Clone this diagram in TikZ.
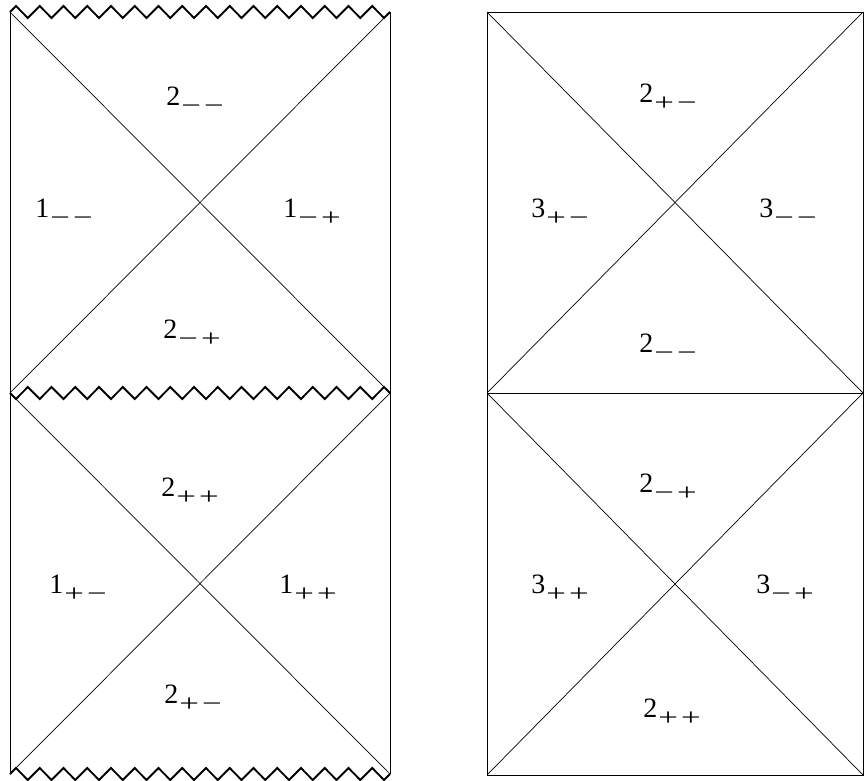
\documentclass[tikz,border=0pt]{standalone}
\usepackage{fontspec}
\setmainfont{Liberation Serif}
\newcommand{\sgn}[1]{\scalebox{1.45}[1]{#1}}
\newcommand{\lbl}[3]{#1\kern1pt\raisebox{-0.3em}{\fontsize{24}{24}\selectfont\sgn{#2}\kern3pt\sgn{#3}}}
\tikzset{
  edge/.style={line width=0.7pt},
  zig/.style={line width=1.9pt, line join=miter},
  lab/.style={font=\fontsize{28}{28}\selectfont, inner sep=0pt}
}
\begin{document}
\begin{tikzpicture}[x=1pt,y=-1pt]
\useasboundingbox (0,0) rectangle (864,781);
% left diagram corners
\coordinate (aTL) at (10,12);
\coordinate (aTR) at (390,12);
\coordinate (aML) at (10,393);
\coordinate (aMR) at (390,393);
\coordinate (aBL) at (10,774);
\coordinate (aBR) at (390,774);
% right diagram corners
\coordinate (bTL) at (487,12);
\coordinate (bTR) at (863,12);
\coordinate (bML) at (487,393);
\coordinate (bMR) at (863,393);
\coordinate (bBL) at (487,775);
\coordinate (bBR) at (863,775);
% left diagram
\draw[edge] (aTL) -- (aBL);
\draw[edge] (aTR) -- (aBR);
\draw[edge] (aTL) -- (aMR);
\draw[edge] (aTR) -- (aML);
\draw[edge] (aML) -- (aBR);
\draw[edge] (aMR) -- (aBL);
\draw[zig] (aTL) \foreach \i in {1,...,16} { -- ++(5.9375,-6) -- ++(11.875,12) -- ++(5.9375,-6) };
\draw[zig] (aML) \foreach \i in {1,...,16} { -- ++(5.9375,6) -- ++(11.875,-12) -- ++(5.9375,6) };
\draw[zig] (aBL) \foreach \i in {1,...,16} { -- ++(5.9375,-6) -- ++(11.875,12) -- ++(5.9375,-6) };
% right diagram
\draw[edge] (bTL) rectangle (bBR);
\draw[edge] (bML) -- (bMR);
\draw[edge] (bTL) -- (bMR);
\draw[edge] (bTR) -- (bML);
\draw[edge] (bML) -- (bBR);
\draw[edge] (bMR) -- (bBL);
% labels left
\node[lab] (l1) at (195,100) {\lbl{2}{−}{−}};
\node[lab] (l2) at (64,212) {\lbl{1}{−}{−}};
\node[lab] (l3) at (312,212) {\lbl{1}{−}{+}};
\node[lab] (l4) at (192,333) {\lbl{2}{−}{+}};
\node[lab] (l5) at (190,491) {\lbl{2}{+}{+}};
\node[lab] (l6) at (78,588) {\lbl{1}{+}{−}};
\node[lab] (l7) at (308,588) {\lbl{1}{+}{+}};
\node[lab] (l8) at (193,698) {\lbl{2}{+}{−}};
% labels right
\node[lab] (r1) at (668,97) {\lbl{2}{+}{−}};
\node[lab] (r2) at (560,212) {\lbl{3}{+}{−}};
\node[lab] (r3) at (788,212) {\lbl{3}{−}{−}};
\node[lab] (r4) at (668,347) {\lbl{2}{−}{−}};
\node[lab] (r5) at (668,487) {\lbl{2}{−}{+}};
\node[lab] (r6) at (560,588) {\lbl{3}{+}{+}};
\node[lab] (r7) at (785,588) {\lbl{3}{−}{+}};
\node[lab] (r8) at (672,712) {\lbl{2}{+}{+}};
\end{tikzpicture}
\end{document}
